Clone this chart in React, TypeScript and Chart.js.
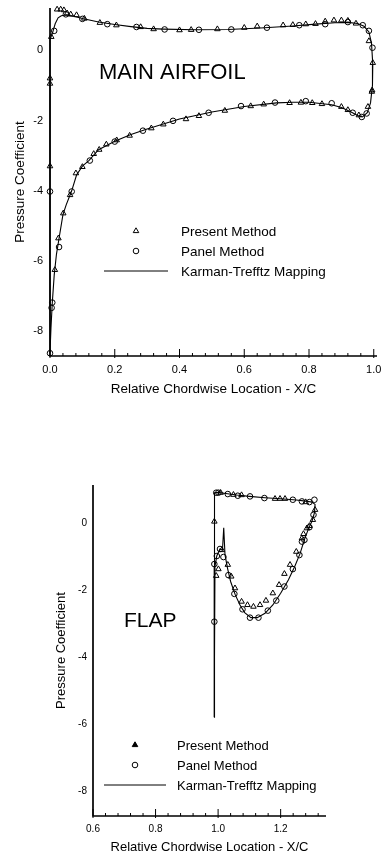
import React, { useEffect, useRef } from "react";
import { Chart, registerables } from "chart.js";

Chart.register(...registerables);

type Pt = [number, number];

// ---------- MAIN AIRFOIL data (X/C, Cp) ----------
const MAIN_PRESENT: Pt[] = [
  [0.004, 0.38], [0.022, 1.16], [0.033, 1.16], [0.043, 1.14], [0.053, 1.05], [0.064, 1.02],
  [0.082, 1.0], [0.106, 0.9], [0.154, 0.78], [0.205, 0.71], [0.28, 0.66], [0.32, 0.6],
  [0.4, 0.57], [0.436, 0.58], [0.517, 0.6], [0.6, 0.64], [0.64, 0.68], [0.72, 0.71],
  [0.75, 0.72], [0.79, 0.74], [0.82, 0.75], [0.85, 0.82], [0.877, 0.85], [0.9, 0.85],
  [0.92, 0.84], [0.945, 0.76], [0.985, 0.26], [0.997, -0.36], [0.995, -1.14],
  [0.0, -0.8], [0.0, -0.95], [0.0, -3.3],
  [0.015, -6.25], [0.026, -5.35], [0.041, -4.64], [0.062, -4.12], [0.08, -3.5], [0.1, -3.32],
  [0.135, -2.95], [0.152, -2.83], [0.174, -2.68], [0.206, -2.56], [0.246, -2.43], [0.313, -2.22],
  [0.35, -2.11], [0.42, -1.96], [0.46, -1.87], [0.54, -1.72], [0.62, -1.59], [0.66, -1.54],
  [0.74, -1.5], [0.775, -1.49], [0.81, -1.5], [0.84, -1.53], [0.9, -1.61], [0.92, -1.7],
  [0.954, -1.85], [0.982, -1.61], [0.994, -1.18],
];

const MAIN_PANEL: Pt[] = [
  [0.013, 0.55], [0.049, 1.02], [0.1, 0.89], [0.177, 0.74], [0.267, 0.66], [0.354, 0.59],
  [0.46, 0.58], [0.56, 0.59], [0.67, 0.64], [0.77, 0.71], [0.85, 0.74], [0.92, 0.8],
  [0.966, 0.71], [0.985, 0.55], [0.996, 0.07],
  [0.0, -4.02], [0.0, -8.62], [0.005, -7.33], [0.007, -7.18], [0.028, -5.6], [0.067, -4.02],
  [0.123, -3.14], [0.2, -2.6], [0.287, -2.29], [0.38, -2.01], [0.49, -1.78], [0.59, -1.59],
  [0.695, -1.49], [0.79, -1.45], [0.87, -1.51], [0.935, -1.78], [0.963, -1.9], [0.978, -1.8],
];

const MAIN_KT: Pt[] = [
  [0.0, -8.6], [0.0, 0.3], [0.008, 0.5], [0.016, 0.75], [0.025, 0.92], [0.035, 0.98],
  [0.05, 1.0], [0.07, 0.97], [0.1, 0.9], [0.15, 0.8], [0.2, 0.73], [0.25, 0.67], [0.3, 0.62],
  [0.35, 0.6], [0.45, 0.58], [0.55, 0.59], [0.65, 0.63], [0.75, 0.69], [0.82, 0.74],
  [0.88, 0.78], [0.92, 0.79], [0.95, 0.76], [0.97, 0.68], [0.985, 0.52], [0.993, 0.2],
  [0.997, -0.4], [0.996, -1.0], [0.99, -1.5], [0.98, -1.78], [0.965, -1.9], [0.95, -1.86],
  [0.93, -1.76], [0.9, -1.63], [0.87, -1.55], [0.8, -1.48], [0.75, -1.48], [0.7, -1.5],
  [0.6, -1.6], [0.5, -1.76], [0.4, -1.96], [0.3, -2.24], [0.25, -2.4], [0.2, -2.59],
  [0.15, -2.83], [0.12, -3.14], [0.1, -3.3], [0.082, -3.55], [0.067, -4.0], [0.05, -4.4],
  [0.04, -4.68], [0.028, -5.35], [0.02, -5.8], [0.013, -6.4], [0.007, -7.2], [0.003, -7.9],
  [0.0, -8.6],
];

// ---------- FLAP data (X/C, Cp) ----------
const FLAP_PRESENT: Pt[] = [
  [0.988, 0.04], [0.994, -1.58], [1.001, -1.38], [1.012, -0.81],
  [1.008, 0.9], [1.049, 0.84], [1.075, 0.83], [1.182, 0.72], [1.198, 0.72], [1.214, 0.72],
  [1.28, 0.62],
  [1.31, 0.39], [1.303, 0.09], [1.292, -0.09], [1.284, -0.16], [1.273, -0.33], [1.268, -0.46],
  [1.25, -0.86], [1.23, -1.25], [1.212, -1.52], [1.195, -1.85], [1.175, -2.1], [1.153, -2.32],
  [1.134, -2.45], [1.113, -2.5], [1.094, -2.45], [1.075, -2.35], [1.054, -1.95], [1.042, -1.6],
  [1.031, -1.25],
];

const FLAP_PANEL: Pt[] = [
  [0.988, -2.95], [0.988, -1.23], [0.996, -0.99], [1.006, -0.78], [1.017, -1.02], [1.033, -1.56],
  [1.052, -2.12], [1.078, -2.58], [1.102, -2.83], [1.129, -2.83], [1.159, -2.62], [1.186, -2.32],
  [1.212, -1.9], [1.239, -1.38], [1.26, -0.96], [1.268, -0.56], [1.276, -0.51], [1.292, -0.13],
  [1.305, 0.24],
  [0.994, 0.9], [1.001, 0.9], [1.031, 0.86], [1.063, 0.81], [1.102, 0.79], [1.148, 0.74],
  [1.239, 0.69], [1.268, 0.64], [1.292, 0.62], [1.308, 0.69],
];

const FLAP_KT: Pt[] = [
  [0.987, -5.8], [0.987, 0.5], [0.99, 0.9], [1.0, 0.91], [1.03, 0.87], [1.06, 0.83], [1.1, 0.79],
  [1.15, 0.75], [1.2, 0.72], [1.25, 0.68], [1.28, 0.65], [1.3, 0.62], [1.31, 0.55], [1.308, 0.3],
  [1.3, 0.05], [1.29, -0.15], [1.276, -0.5], [1.262, -0.92], [1.245, -1.3], [1.225, -1.7],
  [1.2, -2.1], [1.175, -2.45], [1.15, -2.7], [1.125, -2.83], [1.105, -2.83], [1.085, -2.68],
  [1.07, -2.45], [1.055, -2.15], [1.04, -1.75], [1.03, -1.35], [1.022, -0.95], [1.018, -0.15],
  [1.014, -0.8], [1.006, -0.78], [0.996, -0.98], [0.99, -1.3], [0.988, -2.0], [0.987, -5.8],
];

// ---------- ticks & text ----------
const MAIN_X_TICKS = [0, 0.2, 0.4, 0.6, 0.8, 1.0];
const MAIN_Y_TICKS = [0, -2, -4, -6, -8];
const FLAP_X_TICKS = [0.6, 0.8, 1.0, 1.2];
const FLAP_Y_TICKS = [0, -2, -4, -6, -8];
const LEGEND_LABELS = ["Present Method", "Panel Method", "Karman-Trefftz Mapping"];
const X_TITLE = "Relative Chordwise Location - X/C";
const Y_TITLE = "Pressure Coefficient";

const FONT = "'Liberation Sans', Arial, Helvetica, sans-serif";

function drawTri(ctx: CanvasRenderingContext2D, x: number, y: number, r: number, fill: boolean) {
  ctx.beginPath();
  ctx.moveTo(x, y - r);
  ctx.lineTo(x + r * 0.866, y + r * 0.5);
  ctx.lineTo(x - r * 0.866, y + r * 0.5);
  ctx.closePath();
  if (fill) { ctx.fillStyle = "#000"; ctx.fill(); }
  ctx.stroke();
}

const decorPlugin = {
  id: "decor",
  beforeDatasetsDraw(chart: any, _a: any, o: any) {
    const { ctx, chartArea: a } = chart;
    const xs = chart.scales.x;
    const ys = chart.scales.y;
    ctx.save();
    ctx.strokeStyle = "#000";
    ctx.lineWidth = 1.7;
    ctx.beginPath();
    ctx.moveTo(a.left, a.top);
    ctx.lineTo(a.left, a.bottom);
    ctx.lineTo(a.right, a.bottom);
    ctx.stroke();
    ctx.lineWidth = 1;
    const each = (ticks: number[], min: number, max: number, fn: (v: number, major: boolean) => void) => {
      const step = (ticks[1] - ticks[0]) / 5;
      const t0 = ticks[0];
      const k0 = Math.ceil((min - t0) / step - 1e-6);
      const k1 = Math.floor((max - t0) / step + 1e-6);
      for (let k = k0; k <= k1; k++) fn(t0 + k * step, ((k % 5) + 5) % 5 === 0);
    };
    each(o.xTicks, xs.min, xs.max, (v, major) => {
      const px = xs.getPixelForValue(v);
      ctx.beginPath();
      ctx.moveTo(px, a.bottom + (major ? 2 : 0));
      ctx.lineTo(px, a.bottom - (major ? 7 : 3));
      ctx.stroke();
    });
    each(o.yTicks, ys.min, ys.max, (v, major) => {
      const py = ys.getPixelForValue(v);
      ctx.beginPath();
      ctx.moveTo(a.left - (major ? 3 : 0), py);
      ctx.lineTo(a.left + (major ? 6 : 3), py);
      ctx.stroke();
    });
    ctx.restore();
  },
  afterDraw(chart: any, _a: any, o: any) {
    const { ctx } = chart;
    const L = o.legend;
    ctx.save();
    ctx.strokeStyle = "#000";
    ctx.lineWidth = 1;
    drawTri(ctx, L.markerX, L.rowY[0], 3.2, L.filledTri);
    ctx.beginPath();
    ctx.arc(L.markerX, L.rowY[1], 2.8, 0, Math.PI * 2);
    ctx.stroke();
    ctx.beginPath();
    ctx.moveTo(L.lineX0, L.rowY[2]);
    ctx.lineTo(L.lineX1, L.rowY[2]);
    ctx.stroke();
    ctx.fillStyle = "#000";
    ctx.textBaseline = "middle";
    ctx.textAlign = "left";
    ctx.font = `${L.fontSize}px ${FONT}`;
    LEGEND_LABELS.forEach((t, i) => ctx.fillText(t, L.textX, L.rowY[i] + 1));
    ctx.font = `${o.label.size}px ${FONT}`;
    ctx.fillText(o.label.text, o.label.x, o.label.y);
    ctx.restore();
  },
};

interface Cfg {
  canvasTop: number;
  canvasH: number;
  area: { left: number; right: number; top: number; bottom: number };
  xMin: number; xMax: number; yMin: number; yMax: number;
  xTicks: number[]; yTicks: number[];
  present: Pt[]; panel: Pt[]; kt: Pt[];
  tickSize: number; titleSize: number;
  yTitleX: number; xTitleY: number; yLabelPad: number; xLabelPad: number;
  legend: any;
  label: { text: string; x: number; y: number; size: number };
}

const MAIN_CFG: Cfg = {
  canvasTop: 0, canvasH: 400,
  area: { left: 50, right: 378, top: 8, bottom: 356 },
  xMin: 0, xMax: 1.01, yMin: -8.7, yMax: 1.2,
  xTicks: MAIN_X_TICKS, yTicks: MAIN_Y_TICKS,
  present: MAIN_PRESENT, panel: MAIN_PANEL, kt: MAIN_KT,
  tickSize: 11, titleSize: 13.5,
  yTitleX: 20, xTitleY: 389, yLabelPad: 7, xLabelPad: 7.4,
  legend: { markerX: 136, textX: 181, rowY: [231, 251, 271], lineX0: 104, lineX1: 168, fontSize: 13.5, filledTri: false },
  label: { text: "MAIN AIRFOIL", x: 99, y: 73, size: 22 },
};

const FLAP_CFG: Cfg = {
  canvasTop: 460, canvasH: 396,
  area: { left: 93, right: 326, top: 25, bottom: 356 },
  xMin: 0.6, xMax: 1.345, yMin: -8.75, yMax: 1.13,
  xTicks: FLAP_X_TICKS, yTicks: FLAP_Y_TICKS,
  present: FLAP_PRESENT, panel: FLAP_PANEL, kt: FLAP_KT,
  tickSize: 10, titleSize: 13,
  yTitleX: 61, xTitleY: 387, yLabelPad: 6, xLabelPad: 7,
  legend: { markerX: 135, textX: 177, rowY: [285, 305, 325], lineX0: 104, lineX1: 166, fontSize: 13, filledTri: true },
  label: { text: "FLAP", x: 124, y: 161, size: 21 },
};

function AirfoilChart({ cfg }: { cfg: Cfg }) {
  const ref = useRef<HTMLCanvasElement>(null);
  useEffect(() => {
    const c = cfg;
    const toXY = (arr: Pt[]) => arr.map(([x, y]) => ({ x, y }));
    const titleLH = c.titleSize * 1.2;
    const noPad = (s: any) => {
      s.paddingLeft = 0; s.paddingRight = 0; s.paddingTop = 0; s.paddingBottom = 0;
    };
    const chart = new Chart(ref.current!, {
      type: "scatter",
      data: {
        datasets: [
          {
            label: LEGEND_LABELS[2],
            data: toXY(c.kt),
            showLine: true,
            borderColor: "#000",
            borderWidth: 1.1,
            pointRadius: 0,
            tension: 0,
            clip: false,
          } as any,
          {
            label: LEGEND_LABELS[0],
            data: toXY(c.present),
            pointStyle: "triangle",
            pointRadius: 3.2,
            pointBorderWidth: 1,
            borderColor: "#000",
            pointBorderColor: "#000",
            pointBackgroundColor: "rgba(255,255,255,0)",
            backgroundColor: "rgba(255,255,255,0)",
            clip: false,
          } as any,
          {
            label: LEGEND_LABELS[1],
            data: toXY(c.panel),
            pointStyle: "circle",
            pointRadius: 2.8,
            pointBorderWidth: 1,
            borderColor: "#000",
            pointBorderColor: "#000",
            pointBackgroundColor: "rgba(255,255,255,0)",
            backgroundColor: "rgba(255,255,255,0)",
            clip: false,
          } as any,
        ],
      },
      options: {
        responsive: false,
        maintainAspectRatio: false,
        animation: false,
        events: [],
        layout: { padding: { top: c.area.top, right: 382 - c.area.right, left: 0, bottom: 0 } },
        plugins: {
          legend: { display: false },
          tooltip: { enabled: false },
          decor: { xTicks: c.xTicks, yTicks: c.yTicks, legend: c.legend, label: c.label },
        } as any,
        scales: {
          x: {
            type: "linear",
            min: c.xMin,
            max: c.xMax,
            afterBuildTicks: (s: any) => { s.ticks = c.xTicks.map((v) => ({ value: v })); },
            afterFit: (s: any) => { s.height = c.canvasH - c.area.bottom; noPad(s); },
            ticks: {
              callback: (v: any) => Number(v).toFixed(1),
              font: { family: FONT, size: c.tickSize },
              color: "#000",
              padding: c.xLabelPad,
              autoSkip: false,
              maxRotation: 0,
              includeBounds: false,
            },
            grid: { display: false, drawTicks: false },
            border: { display: false },
            title: {
              display: true,
              text: X_TITLE,
              color: "#000",
              font: { family: FONT, size: c.titleSize },
              padding: { top: 0, bottom: c.canvasH - c.xTitleY - titleLH / 2 },
            },
          },
          y: {
            type: "linear",
            min: c.yMin,
            max: c.yMax,
            afterBuildTicks: (s: any) => { s.ticks = c.yTicks.map((v) => ({ value: v })); },
            afterFit: (s: any) => { s.width = c.area.left; noPad(s); },
            ticks: {
              callback: (v: any) => Number(v).toFixed(0),
              font: { family: FONT, size: c.tickSize },
              color: "#000",
              padding: c.yLabelPad,
              autoSkip: false,
              includeBounds: false,
            },
            grid: { display: false, drawTicks: false },
            border: { display: false },
            title: {
              display: true,
              text: Y_TITLE,
              color: "#000",
              font: { family: FONT, size: c.titleSize },
              padding: { top: c.yTitleX - titleLH / 2, bottom: 0 },
            },
          },
        } as any,
      },
      plugins: [decorPlugin as any],
    });
    return () => chart.destroy();
  }, [cfg]);
  return (
    <canvas
      ref={ref}
      width={382}
      height={cfg.canvasH}
      style={{ position: "absolute", left: 0, top: cfg.canvasTop, width: 382, height: cfg.canvasH }}
    />
  );
}

export default function App() {
  return (
    <div style={{ position: "absolute", left: 0, top: 0, width: 382, height: 856, background: "#fff", overflow: "hidden" }}>
      <AirfoilChart cfg={MAIN_CFG} />
      <AirfoilChart cfg={FLAP_CFG} />
    </div>
  );
}
